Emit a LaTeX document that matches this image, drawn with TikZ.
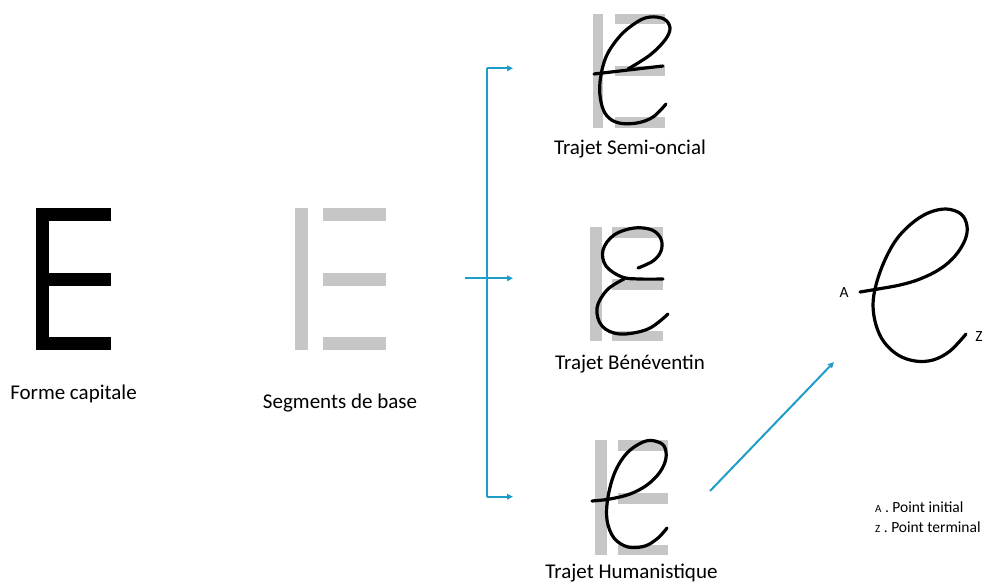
\documentclass[tikz,border=0pt]{standalone}
\usepackage{fontspec}
\setmainfont{Carlito}
\usetikzlibrary{arrows.meta}
\definecolor{segGray}{HTML}{C6C6C6}
\definecolor{linkBlue}{HTML}{1D9DC8}
\begin{document}
\begin{tikzpicture}[x=1pt,y=-1pt,
  seg/.style={fill=segGray,draw=none},
  capbar/.style={fill=black,draw=none},
  pen/.style={draw=black,line width=3.2pt,line cap=round,line join=round},
  link/.style={draw=linkBlue,line width=2pt,-{Triangle[length=6pt,width=5.5pt]}},
  plain/.style={draw=linkBlue,line width=2pt},
  lbl/.style={font=\fontsize{21}{25}\selectfont,inner sep=0pt,anchor=base},
  pt/.style={font=\fontsize{15.5}{18}\selectfont,inner sep=0pt,anchor=base},
  leg/.style={font=\fontsize{15.5}{18}\selectfont,inner sep=0pt,anchor=base west}]
\useasboundingbox (0,0) rectangle (984,583);

% capital E
\fill[capbar] (36,208) rectangle (49,350);
\fill[capbar] (49,208) rectangle (111,221);
\fill[capbar] (49,273) rectangle (111,286);
\fill[capbar] (49,337) rectangle (111,350);
\node[lbl] (formecap) at (73.5,399) {Forme capitale};

% base segments
\fill[seg] (295,208) rectangle (308,350);
\fill[seg] (323,208) rectangle (386,221);
\fill[seg] (323,273) rectangle (386,286);
\fill[seg] (323,337) rectangle (386,350);
\node[lbl] (segbase) at (340,408) {Segments de base};

% semi-oncial
\fill[seg] (593,14) rectangle (603,128);
\fill[seg] (615,14) rectangle (665,24.5);
\fill[seg] (615,66) rectangle (665,76.5);
\fill[seg] (615,117.5) rectangle (665,128);
\draw[pen] (594,74) .. controls (620,71) and (645,68) .. (663,66);
\draw[pen] plot[smooth,tension=0.6] coordinates {(628,69) (650,55) (665,40) (670,28) (664,19) (650,17) (637,22) (620,36) (606,57) (600,82) (601,102) (607,116) (619,123) (637,123) (653,117) (666,104)};
\node[lbl] (semi) at (630,154) {Trajet Semi-oncial};

% beneventin
\fill[seg] (590,227) rectangle (601.5,341);
\fill[seg] (612,227) rectangle (663,237.5);
\fill[seg] (612,279) rectangle (663,289.5);
\fill[seg] (612,330.5) rectangle (663,341);
\draw[pen] plot[smooth,tension=0.6] coordinates {(638,268) (653,261) (661,251) (661,239) (652,230) (634,228) (614,235) (603,250) (606,266) (622,277) (640,279) (663,279)};
\draw[pen] plot[smooth,tension=0.6] coordinates {(624,279) (607,290) (597,308) (602,326) (620,334) (648,329) (668,314)};
\node[lbl] (bene) at (630,369) {Trajet Bénéventin};

% humanistique
\fill[seg] (595,440) rectangle (606.5,555);
\fill[seg] (618,440) rectangle (668,450.5);
\fill[seg] (618,493) rectangle (668,503.5);
\fill[seg] (618,545) rectangle (668,555);
\draw[pen] plot[smooth,tension=0.6] coordinates {(592,501) (610,499) (630,494) (647,485) (660,472) (666,458) (664,446) (655,441) (643,442) (627,453) (615,472) (608,497) (607,520) (614,538) (628,547) (645,546) (658,538) (667,528)};
\node[lbl] (huma) at (631.5,578) {Trajet Humanistique};

% final e
\draw[pen] plot[smooth,tension=0.6] coordinates {(860,292) (878,289) (900,285) (920,279) (940,269) (955,256) (965,240) (967,226) (961,214) (946,209) (928,213) (911,224) (896,240) (884,262) (876,285) (873,305) (876,325) (884,342) (898,355) (915,361) (933,360) (950,351) (966,334)};
\node[pt] (ptA) at (844,297) {A};
\node[pt] (ptZ) at (979,341) {Z};

% legend
\node[leg] (legA) at (875,512) {{\fontsize{11}{12}\selectfont A} . Point initial};
\node[leg] (legZ) at (875,532) {{\fontsize{11}{12}\selectfont Z} . Point terminal};

% connectors
\coordinate (src) at (465,278.3);
\coordinate (split) at (487.3,278.3);
\coordinate (topc) at (487.3,68.3);
\coordinate (botc) at (487.3,496.7);
\coordinate (tgtS) at (513,68.3);
\coordinate (tgtB) at (513,278.3);
\coordinate (tgtH) at (513,496.7);
\draw[plain] (topc) -- (botc);
\draw[link] (src) -- (tgtB);
\draw[link] (topc) -- (tgtS);
\draw[link] (botc) -- (tgtH);
\coordinate (hFrom) at (710,491);
\coordinate (eTo) at (834,362);
\draw[link] (hFrom) -- (eTo);
\end{tikzpicture}
\end{document}
